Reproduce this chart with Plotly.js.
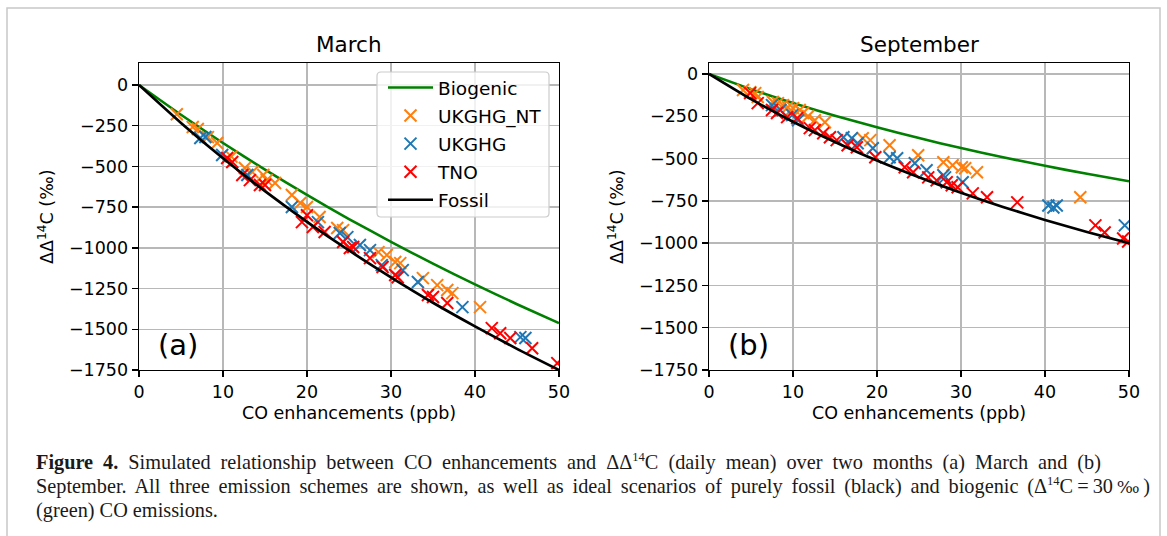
<!DOCTYPE html>
<html>
<head>
<meta charset="utf-8">
<script src="https://cdn.plot.ly/plotly-3.0.1.min.js"></script>
<style>
  html, body { margin: 0; padding: 0; background: #ffffff; }
  #wrap { position: relative; width: 1167px; height: 536px; overflow: hidden; }
  #chart { position: absolute; left: 0; top: 0; width: 1167px; height: 536px; }
  #caption { position: absolute; left: 36px; top: 451px; font-family: 'Liberation Serif', serif;
             font-size: 20.3px; line-height: 23.5px; color: #1a1a1a; }
  #caption .ln { white-space: nowrap; }
  #caption .j { text-align: justify; text-align-last: justify; text-justify: inter-word; white-space: normal; }
  #caption sup { font-size: 12.5px; line-height: 0; }
  #caption .pm { font-family: 'DejaVu Serif', serif; font-size: 17px; }
</style>
</head>
<body>
<div id="wrap">
<div id="chart"></div>
<div id="caption">
  <div class="ln j" style="width:1065px"><b>Figure 4.</b> Simulated relationship between CO enhancements and ΔΔ<sup>14</sup>C (daily mean) over two months (a) March and (b)</div>
  <div class="ln j" style="width:1114px">September. All three emission schemes are shown, as well as ideal scenarios of purely fossil (black) and biogenic (Δ<sup>14</sup>C&#8239;=&#8239;<span style="white-space:nowrap">30<span class="pm">‰</span>)</span></div>
  <div class="ln">(green) CO emissions.</div>
</div>
</div>
<script>
// ---------- Data ----------
// Ideal curves, sampled every 5 ppb
const curveX = [0, 5, 10, 15, 20, 25, 30, 35, 40, 45, 50];
const marchBiogenic = [0, -183, -356, -520, -675, -823, -963, -1097, -1224, -1346, -1462];
const marchFossil   = [0, -233, -450, -652, -840, -1016, -1181, -1337, -1482, -1620, -1750];
const sepBiogenic   = [0, -90, -172, -247, -315, -379, -438, -492, -543, -590, -634];
const sepFossil     = [0, -149, -282, -402, -512, -611, -702, -786, -863, -934, -1000];

// March scatter
const marchNTx = [4.5, 6.4, 7.0, 8.2, 9.3, 11.0, 12.6, 13.5, 14.8, 15.2, 16.2, 18.2, 19.2, 20.0, 21.5, 23.6, 24.3, 28.5, 29.5, 30.5, 31.1, 33.8, 35.5, 36.7, 37.3, 40.6];
const marchNTy = [-180, -258, -270, -320, -356, -440, -510, -534, -553, -584, -602, -676, -725, -749, -811, -878, -891, -1026, -1044, -1087, -1094, -1186, -1229, -1259, -1278, -1364];
const marchUKx = [7.3, 7.9, 9.9, 12.9, 18.2, 21.3, 23.9, 24.8, 26.3, 27.5, 28.9, 31.4, 33.2, 38.5, 45.4, 46.0];
const marchUKy = [-326, -319, -430, -553, -749, -842, -909, -934, -983, -1014, -1106, -1137, -1210, -1364, -1548, -1554];
const marchTNOx = [10.5, 11.1, 12.3, 13.2, 14.4, 15.0, 19.4, 20.0, 20.7, 22.1, 24.3, 25.1, 25.5, 27.5, 29.0, 30.5, 30.8, 34.4, 35.0, 36.7, 42.0, 43.0, 44.2, 46.8, 49.8];
const marchTNOy = [-448, -473, -553, -584, -614, -614, -842, -800, -872, -903, -964, -1001, -995, -1063, -1118, -1167, -1180, -1290, -1302, -1339, -1493, -1524, -1554, -1616, -1708];

// September scatter
const sepNTx = [4.05, 4.9, 5.5, 5.8, 7.6, 8.2, 8.8, 9.4, 9.6, 10.0, 10.8, 11.2, 11.8, 12.6, 13.8, 18.3, 19.2, 21.5, 24.9, 27.9, 29.0, 30.1, 30.5, 31.9, 44.2];
const sepNTy = [-95, -107, -113, -136, -166, -172, -184, -196, -225, -202, -213, -231, -250, -273, -285, -380, -391, -421, -480, -522, -540, -551, -557, -581, -729];
const sepUKx = [7.5, 8.5, 9.9, 10.6, 16.0, 17.0, 17.7, 19.5, 21.5, 22.4, 24.5, 25.9, 27.9, 28.1, 30.2, 40.4, 41.0, 41.4, 49.5];
const sepUKy = [-184, -213, -243, -273, -374, -380, -409, -439, -492, -498, -528, -569, -599, -611, -640, -777, -789, -777, -895];
const sepTNOx = [4.9, 5.8, 7.5, 8.1, 9.3, 10.5, 12.0, 12.6, 13.6, 14.4, 15.2, 16.5, 17.6, 19.8, 23.3, 24.3, 26.1, 27.1, 28.3, 28.9, 29.6, 31.4, 33.1, 36.7, 46.0, 47.1, 49.3, 49.9];
const sepTNOy = [-113, -172, -213, -231, -255, -261, -320, -332, -350, -374, -391, -421, -433, -492, -551, -581, -611, -629, -640, -658, -670, -706, -729, -759, -895, -937, -973, -990];

const xTickVals = [0, 10, 20, 30, 40, 50];
const yTickVals = [0, -250, -500, -750, -1000, -1250, -1500, -1750];

// ---------- Styling ----------
const FONT = 'DejaVu Sans, sans-serif';
const cGreen = '#008000', cBlack = '#000000', cOrange = '#ff7f0e', cBlue = '#1f77b4', cRed = '#ff0000';

function lineTrace(x, y, color, name, xa, ya, show, rank, w) {
  return { type: 'scatter', mode: 'lines', x: x, y: y, name: name, xaxis: xa, yaxis: ya,
    line: { color: color, width: w, shape: 'spline', smoothing: 0.6 }, showlegend: show, legendrank: rank,
    legendgroup: name, hoverinfo: 'skip' };
}
function markTrace(x, y, color, name, xa, ya, show, rank) {
  return { type: 'scatter', mode: 'markers', x: x, y: y, name: name, xaxis: xa, yaxis: ya,
    marker: { symbol: 'x-thin', size: 12, color: color, line: { color: color, width: 2 } },
    showlegend: show, legendrank: rank, legendgroup: name, cliponaxis: true, hoverinfo: 'skip' };
}

const data = [
  lineTrace(curveX, marchBiogenic, cGreen, 'Biogenic', 'x', 'y', true, 1, 2.6),
  markTrace(marchNTx, marchNTy, cOrange, 'UKGHG_NT', 'x', 'y', true, 2),
  markTrace(marchUKx, marchUKy, cBlue, 'UKGHG', 'x', 'y', true, 3),
  markTrace(marchTNOx, marchTNOy, cRed, 'TNO', 'x', 'y', true, 4),
  lineTrace(curveX, marchFossil, cBlack, 'Fossil', 'x', 'y', true, 5, 2.7),

  lineTrace(curveX, sepBiogenic, cGreen, 'Biogenic', 'x2', 'y2', false, 1, 2.6),
  markTrace(sepNTx, sepNTy, cOrange, 'UKGHG_NT', 'x2', 'y2', false, 2),
  markTrace(sepUKx, sepUKy, cBlue, 'UKGHG', 'x2', 'y2', false, 3),
  markTrace(sepTNOx, sepTNOy, cRed, 'TNO', 'x2', 'y2', false, 4),
  lineTrace(curveX, sepFossil, cBlack, 'Fossil', 'x2', 'y2', false, 5, 2.7)
];

const W = 1167, H = 536;
const px = v => v / W;
const py = v => 1 - v / H;

function xAxis(domain, anchor) {
  return { domain: domain, anchor: anchor, range: [0, 50], tickvals: xTickVals, ticktext: xTickVals.map(String),
    showline: true, mirror: true, linecolor: '#000', linewidth: 1.4,
    ticks: 'outside', ticklen: 6, tickwidth: 1.4, tickcolor: '#000',
    showgrid: true, gridcolor: '#b8b8b8', gridwidth: 1.5, zeroline: false,
    tickfont: { family: FONT, size: 17.5, color: '#000' }, fixedrange: true };
}
function yAxis(domain, anchor, range) {
  return { domain: domain, anchor: anchor, range: range, tickvals: yTickVals,
    ticktext: yTickVals.map(v => v < 0 ? '\u2212' + Math.abs(v) : String(v)),
    showline: true, mirror: true, linecolor: '#000', linewidth: 1.4,
    ticks: 'outside', ticklen: 6, tickwidth: 1.4, tickcolor: '#000',
    showgrid: true, gridcolor: '#b8b8b8', gridwidth: 1.5, zeroline: false,
    tickfont: { family: FONT, size: 17.5, color: '#000' }, fixedrange: true };
}

const yDom = [py(370), py(63)];

// rounded legend frame (like matplotlib's fancy box)
function roundRect(x0, y0, x1, y1, r) {
  const X = v => px(v), Y = v => py(v);
  return `M ${X(x0 + r)} ${Y(y0)} L ${X(x1 - r)} ${Y(y0)} Q ${X(x1)} ${Y(y0)} ${X(x1)} ${Y(y0 + r)} ` +
         `L ${X(x1)} ${Y(y1 - r)} Q ${X(x1)} ${Y(y1)} ${X(x1 - r)} ${Y(y1)} L ${X(x0 + r)} ${Y(y1)} ` +
         `Q ${X(x0)} ${Y(y1)} ${X(x0)} ${Y(y1 - r)} L ${X(x0)} ${Y(y0 + r)} Q ${X(x0)} ${Y(y0)} ${X(x0 + r)} ${Y(y0)} Z`;
}

const layout = {
  width: W, height: H,
  margin: { l: 0, r: 0, t: 0, b: 0 },
  paper_bgcolor: 'rgba(0,0,0,0)', plot_bgcolor: '#ffffff',
  showlegend: true,
  xaxis: xAxis([px(139), px(559)], 'y'),
  yaxis: yAxis(yDom, 'x', [-1750, 135]),
  xaxis2: xAxis([px(709), px(1129)], 'y2'),
  yaxis2: yAxis(yDom, 'x2', [-1750, 65]),
  legend: {
    x: px(383), y: py(69), xanchor: 'left', yanchor: 'top',
    bgcolor: 'rgba(0,0,0,0)', borderwidth: 0,
    font: { family: FONT, size: 18.5, color: '#000' },
    traceorder: 'grouped', tracegroupgap: 1, itemwidth: 45
  },
  shapes: [
    { type: 'rect', xref: 'paper', yref: 'paper', x0: px(7), x1: px(1160), y0: -0.05, y1: py(8),
      line: { color: '#c8c8c8', width: 1.5 }, fillcolor: 'rgba(0,0,0,0)', layer: 'below' },
    { type: 'path', xref: 'paper', yref: 'paper', path: roundRect(377, 72, 549, 217, 4),
      line: { color: '#cccccc', width: 1.2 }, fillcolor: 'rgba(255,255,255,0.8)', layer: 'above' }
  ],
  annotations: [
    { text: 'March', xref: 'paper', yref: 'paper', x: px(349), y: py(44), xanchor: 'center', yanchor: 'middle',
      showarrow: false, font: { family: FONT, size: 21.5, color: '#000' } },
    { text: 'September', xref: 'paper', yref: 'paper', x: px(919), y: py(44), xanchor: 'center', yanchor: 'middle',
      showarrow: false, font: { family: FONT, size: 21.5, color: '#000' } },
    { text: 'CO enhancements (ppb)', xref: 'paper', yref: 'paper', x: px(349), y: py(413), xanchor: 'center', yanchor: 'middle',
      showarrow: false, font: { family: FONT, size: 17.5, color: '#000' } },
    { text: 'CO enhancements (ppb)', xref: 'paper', yref: 'paper', x: px(919), y: py(413), xanchor: 'center', yanchor: 'middle',
      showarrow: false, font: { family: FONT, size: 17.5, color: '#000' } },
    { text: 'ΔΔ<sup>14</sup>C (‰)', xref: 'paper', yref: 'paper', x: px(46), y: py(217), xanchor: 'center', yanchor: 'middle',
      textangle: -90, showarrow: false, font: { family: FONT, size: 17.5, color: '#000' } },
    { text: 'ΔΔ<sup>14</sup>C (‰)', xref: 'paper', yref: 'paper', x: px(616), y: py(217), xanchor: 'center', yanchor: 'middle',
      textangle: -90, showarrow: false, font: { family: FONT, size: 17.5, color: '#000' } },
    { text: '(a)', xref: 'x', yref: 'y', x: 2.0, y: -1597, xanchor: 'left', yanchor: 'middle',
      showarrow: false, font: { family: FONT, size: 29, color: '#000' } },
    { text: '(b)', xref: 'x2', yref: 'y2', x: 2.0, y: -1602, xanchor: 'left', yanchor: 'middle',
      showarrow: false, font: { family: FONT, size: 29, color: '#000' } }
  ]
};

Plotly.newPlot('chart', data, layout, { displayModeBar: false, staticPlot: true });
</script>
</body>
</html>
